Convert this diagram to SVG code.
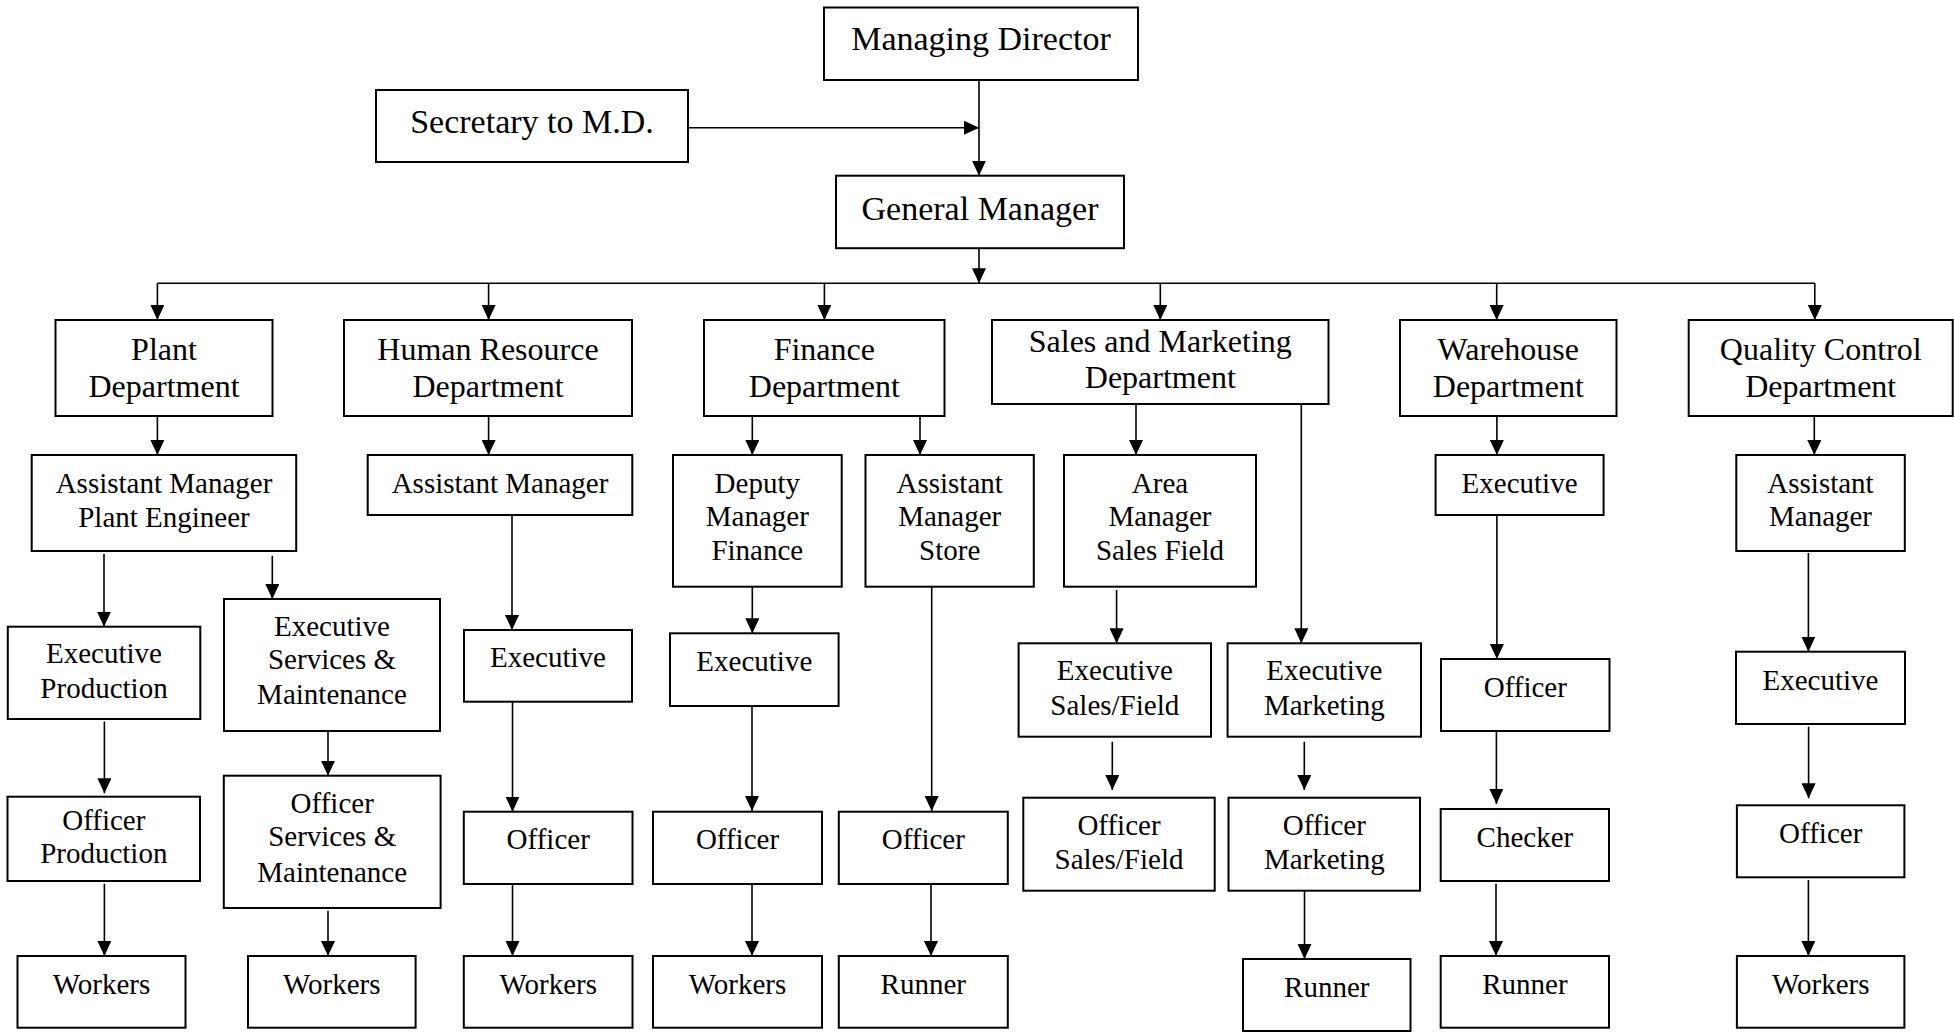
<svg xmlns="http://www.w3.org/2000/svg" width="1954" height="1032" viewBox="0 0 1954 1032">
<style>
  rect { fill: #ffffff; stroke: #000000; stroke-width: 2; }
  text { font-family: "Liberation Serif", "Times New Roman", serif; fill: #000000; text-anchor: middle; }
  .t1 { font-size: 34px; }
  .t2 { font-size: 32px; }
  .t3 { font-size: 29px; }
  #connectors line { stroke: #000000; stroke-width: 1.6; fill: none; }
  .arr { marker-end: url(#ah); }
</style>
<defs>
  <marker id="ah" markerUnits="userSpaceOnUse" markerWidth="15" markerHeight="14" refX="15" refY="7" orient="auto">
    <path d="M0,0 L15,7 L0,14 z" fill="#000000"/>
  </marker>
</defs>
<rect x="0" y="0" width="1954" height="1032" style="fill:#ffffff;stroke:none"/>

<g id="connectors">
  <line class="arr" x1="979" y1="80" x2="979" y2="175.7"/>
  <line class="arr" x1="688" y1="127.7" x2="979" y2="127.7"/>
  <line class="arr" x1="979" y1="248" x2="979" y2="283.3"/>
  <line x1="157.4" y1="283.3" x2="1814.8" y2="283.3"/>
  <line class="arr" x1="157.4" y1="283.3" x2="157.4" y2="320"/>
  <line class="arr" x1="488.6" y1="283.3" x2="488.6" y2="320"/>
  <line class="arr" x1="824.4" y1="283.3" x2="824.4" y2="320"/>
  <line class="arr" x1="1160.3" y1="283.3" x2="1160.3" y2="320"/>
  <line class="arr" x1="1496.7" y1="283.3" x2="1496.7" y2="320"/>
  <line class="arr" x1="1814.8" y1="283.3" x2="1814.8" y2="320"/>

  <line class="arr" x1="157.4" y1="416" x2="157.4" y2="455"/>
  <line class="arr" x1="488.6" y1="416" x2="488.6" y2="455"/>
  <line class="arr" x1="752.3" y1="416" x2="752.3" y2="455"/>
  <line class="arr" x1="920" y1="416" x2="920" y2="455"/>
  <line class="arr" x1="1136" y1="404" x2="1136" y2="455"/>
  <line class="arr" x1="1301.3" y1="404" x2="1301.3" y2="643.3"/>
  <line class="arr" x1="1496.9" y1="416" x2="1496.9" y2="455"/>
  <line class="arr" x1="1814.3" y1="416" x2="1814.3" y2="455"/>

  <line class="arr" x1="104" y1="554" x2="104" y2="626.7"/>
  <line class="arr" x1="272.3" y1="555.7" x2="272.3" y2="599"/>
  <line class="arr" x1="512" y1="515" x2="512" y2="630"/>
  <line class="arr" x1="752.3" y1="586.7" x2="752.3" y2="633.3"/>
  <line class="arr" x1="931.7" y1="586.7" x2="931.7" y2="811"/>
  <line class="arr" x1="1116.6" y1="590" x2="1116.6" y2="643.3"/>
  <line class="arr" x1="1496.9" y1="515" x2="1496.9" y2="659"/>
  <line class="arr" x1="1808.4" y1="553" x2="1808.4" y2="651.7"/>

  <line class="arr" x1="104.4" y1="721.5" x2="104.4" y2="793.3"/>
  <line class="arr" x1="328" y1="731" x2="328" y2="775.7"/>
  <line class="arr" x1="512.5" y1="701.7" x2="512.5" y2="811.7"/>
  <line class="arr" x1="752" y1="706" x2="752" y2="811"/>
  <line class="arr" x1="1112.3" y1="741.7" x2="1112.3" y2="790"/>
  <line class="arr" x1="1304.3" y1="741.7" x2="1304.3" y2="790"/>
  <line class="arr" x1="1496.4" y1="731" x2="1496.4" y2="804"/>
  <line class="arr" x1="1808.6" y1="726.7" x2="1808.6" y2="798.3"/>

  <line class="arr" x1="104.4" y1="883.7" x2="104.4" y2="956"/>
  <line class="arr" x1="328" y1="910.7" x2="328" y2="956"/>
  <line class="arr" x1="512.5" y1="884" x2="512.5" y2="956"/>
  <line class="arr" x1="752" y1="884" x2="752" y2="956"/>
  <line class="arr" x1="931" y1="884" x2="931" y2="956"/>
  <line class="arr" x1="1304.5" y1="890.7" x2="1304.5" y2="959"/>
  <line class="arr" x1="1496" y1="883.7" x2="1496" y2="956"/>
  <line class="arr" x1="1808.4" y1="880" x2="1808.4" y2="956"/>
</g>

<g id="md"><rect x="824" y="7.5" width="314" height="72.5"/><text class="t1" x="981" y="50">Managing Director</text></g>
<g id="secretary"><rect x="376" y="90" width="312" height="72"/><text class="t1" x="532" y="133">Secretary to M.D.</text></g>
<g id="gm"><rect x="836" y="175.7" width="288" height="72.5"/><text class="t1" x="980" y="220">General Manager</text></g>

<g id="plant"><rect x="55.5" y="320" width="217" height="96"/><text class="t2" x="164" y="360">Plant</text><text class="t2" x="164" y="397">Department</text></g>
<g id="hr"><rect x="344" y="320" width="288" height="96"/><text class="t2" x="488" y="360">Human Resource</text><text class="t2" x="488" y="397">Department</text></g>
<g id="finance"><rect x="704" y="320" width="240.5" height="96"/><text class="t2" x="824.3" y="360">Finance</text><text class="t2" x="824.3" y="397">Department</text></g>
<g id="sales"><rect x="992" y="320" width="336.5" height="84"/><text class="t2" x="1160.3" y="351.5">Sales and Marketing</text><text class="t2" x="1160.3" y="387.5">Department</text></g>
<g id="warehouse"><rect x="1400" y="320" width="216.5" height="96"/><text class="t2" x="1508.3" y="360">Warehouse</text><text class="t2" x="1508.3" y="397">Department</text></g>
<g id="qc"><rect x="1688.7" y="320" width="264" height="96"/><text class="t2" x="1820.7" y="360">Quality Control</text><text class="t2" x="1820.7" y="397">Department</text></g>

<g id="plant_am"><rect x="31.7" y="455" width="264.5" height="96"/><text class="t3" x="164" y="493.3">Assistant Manager</text><text class="t3" x="164" y="526.7">Plant Engineer</text></g>
<g id="hr_am"><rect x="367.7" y="455" width="264.6" height="60"/><text class="t3" x="500" y="493.3">Assistant Manager</text></g>
<g id="dep_fin"><rect x="673" y="455" width="168.7" height="131.7"/><text class="t3" x="757.3" y="492.7">Deputy</text><text class="t3" x="757.3" y="526">Manager</text><text class="t3" x="757.3" y="560">Finance</text></g>
<g id="am_store"><rect x="865.5" y="455" width="168.3" height="131.7"/><text class="t3" x="949.7" y="492.7">Assistant</text><text class="t3" x="949.7" y="526">Manager</text><text class="t3" x="949.7" y="560">Store</text></g>
<g id="area_mgr"><rect x="1064" y="455" width="192" height="131.7"/><text class="t3" x="1160" y="492.7">Area</text><text class="t3" x="1160" y="526">Manager</text><text class="t3" x="1160" y="560">Sales Field</text></g>
<g id="wh_exec"><rect x="1435.6" y="455" width="168" height="60"/><text class="t3" x="1519.6" y="493.3">Executive</text></g>
<g id="qc_am"><rect x="1736.3" y="455" width="168.5" height="96"/><text class="t3" x="1820.5" y="492.7">Assistant</text><text class="t3" x="1820.5" y="526">Manager</text></g>

<g id="exec_prod"><rect x="7.8" y="626.7" width="192.5" height="92.3"/><text class="t3" x="104" y="663.3">Executive</text><text class="t3" x="104" y="698.3">Production</text></g>
<g id="exec_sm"><rect x="224" y="599" width="216" height="132"/><text class="t3" x="332" y="636">Executive</text><text class="t3" x="332" y="669.3">Services &amp;</text><text class="t3" x="332" y="704">Maintenance</text></g>
<g id="hr_exec"><rect x="464" y="630" width="168" height="71.7"/><text class="t3" x="548" y="666.7">Executive</text></g>
<g id="fin_exec"><rect x="670" y="633.3" width="168.6" height="72.7"/><text class="t3" x="754.3" y="670.7">Executive</text></g>
<g id="exec_sales"><rect x="1018.6" y="643.3" width="192.4" height="93.4"/><text class="t3" x="1114.8" y="680">Executive</text><text class="t3" x="1114.8" y="715">Sales/Field</text></g>
<g id="exec_mkt"><rect x="1227.6" y="643.3" width="193.4" height="93.4"/><text class="t3" x="1324.3" y="680">Executive</text><text class="t3" x="1324.3" y="715">Marketing</text></g>
<g id="wh_officer"><rect x="1441" y="659" width="168.5" height="72"/><text class="t3" x="1525.3" y="696.7">Officer</text></g>
<g id="qc_exec"><rect x="1736" y="651.7" width="169" height="72.3"/><text class="t3" x="1820.5" y="690">Executive</text></g>

<g id="off_prod"><rect x="7.5" y="796.7" width="192.5" height="84.3"/><text class="t3" x="103.8" y="830">Officer</text><text class="t3" x="103.8" y="862.7">Production</text></g>
<g id="off_sm"><rect x="223.8" y="775.7" width="216.8" height="132.3"/><text class="t3" x="332.2" y="813.3">Officer</text><text class="t3" x="332.2" y="846">Services &amp;</text><text class="t3" x="332.2" y="881.7">Maintenance</text></g>
<g id="hr_off"><rect x="463.8" y="811.7" width="168.7" height="72.3"/><text class="t3" x="548.2" y="849.3">Officer</text></g>
<g id="fin_off"><rect x="653" y="811.7" width="169" height="72.3"/><text class="t3" x="737.5" y="849.3">Officer</text></g>
<g id="store_off"><rect x="838.8" y="811.7" width="169" height="72.3"/><text class="t3" x="923.3" y="849.3">Officer</text></g>
<g id="off_sales"><rect x="1023.3" y="797.7" width="191.4" height="93"/><text class="t3" x="1119" y="835">Officer</text><text class="t3" x="1119" y="869.3">Sales/Field</text></g>
<g id="off_mkt"><rect x="1228.5" y="797.7" width="191.5" height="93"/><text class="t3" x="1324.3" y="835">Officer</text><text class="t3" x="1324.3" y="869.3">Marketing</text></g>
<g id="checker"><rect x="1440.7" y="809" width="168.3" height="72"/><text class="t3" x="1524.9" y="846.7">Checker</text></g>
<g id="qc_off"><rect x="1736.9" y="805.3" width="167.5" height="72"/><text class="t3" x="1820.7" y="843.3">Officer</text></g>

<g id="workers1"><rect x="17.5" y="956" width="168" height="71.7"/><text class="t3" x="101.5" y="994">Workers</text></g>
<g id="workers2"><rect x="248" y="956" width="167.6" height="71.7"/><text class="t3" x="331.8" y="994">Workers</text></g>
<g id="workers3"><rect x="463.8" y="956" width="168.7" height="71.7"/><text class="t3" x="548.2" y="994">Workers</text></g>
<g id="workers4"><rect x="653" y="956" width="169" height="71.7"/><text class="t3" x="737.5" y="994">Workers</text></g>
<g id="runner_store"><rect x="838.8" y="956" width="169" height="71.7"/><text class="t3" x="923.3" y="994">Runner</text></g>
<g id="runner_mkt"><rect x="1243" y="959" width="167.5" height="72"/><text class="t3" x="1326.8" y="996.7">Runner</text></g>
<g id="runner_wh"><rect x="1440.7" y="956" width="168.3" height="71.7"/><text class="t3" x="1524.9" y="994">Runner</text></g>
<g id="workers_qc"><rect x="1736.9" y="956" width="167.5" height="71.7"/><text class="t3" x="1820.7" y="994">Workers</text></g>
</svg>
